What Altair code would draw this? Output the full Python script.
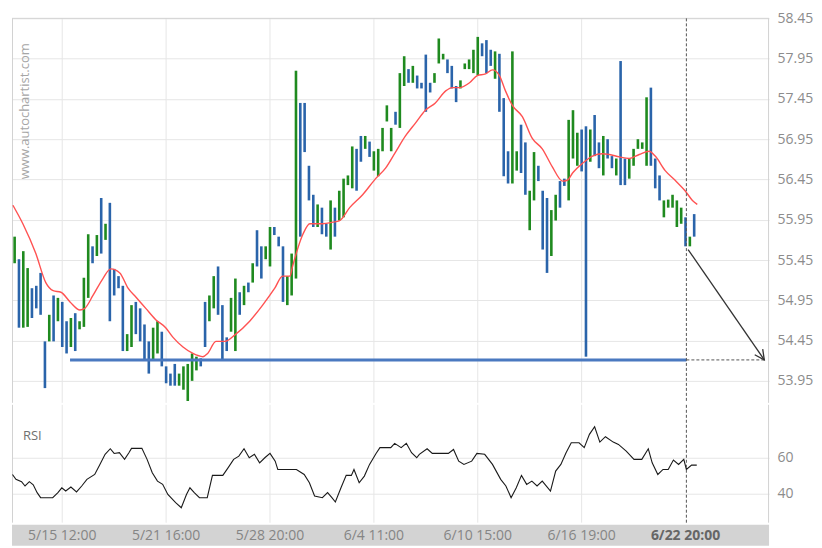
import altair as alt
import pandas as pd

# ---------------- data ----------------
bar_high = [55.74, 55.46, 55.56, 55.35, 55.10, 55.13, 55.29, 54.44, 54.77, 55.01,
            54.98, 54.93, 54.69, 54.73, 54.79, 54.69, 55.23, 55.77, 55.62, 55.76,
            56.22, 55.90, 56.16, 55.34, 55.25, 55.13, 54.53, 54.89, 54.93, 54.85,
            54.65, 54.44, 54.61, 54.69, 54.56, 54.13, 54.04, 54.16, 54.04, 54.13,
            54.16, 54.29, 54.25, 54.23, 54.93, 55.01, 55.25, 55.37, 54.89, 54.49,
            54.98, 55.22, 55.05, 55.13, 55.17, 55.41, 55.82, 55.62, 55.62, 55.86,
            55.86, 55.74, 55.62, 55.25, 55.53, 57.80, 57.40, 57.40, 56.62, 56.26,
            56.14, 56.10, 55.90, 56.19, 56.10, 56.31, 56.46, 56.50, 56.86, 56.83,
            56.99, 56.99, 56.92, 56.80, 56.83, 57.09, 57.37, 57.09, 57.29, 57.77,
            57.98, 57.82, 57.86, 57.74, 57.65, 58.00, 57.65, 57.77, 58.20, 58.01,
            57.94, 57.86, 57.61, 57.68, 57.89, 57.94, 58.06, 58.22, 58.14, 58.18,
            58.06, 58.04, 58.01, 57.46, 56.80, 58.04, 56.80, 57.13, 56.91, 56.31,
            56.79, 56.62, 56.31, 56.22, 56.07, 56.26, 56.43, 56.46, 57.19, 57.31,
            57.03, 57.07, 57.11, 57.07, 57.25, 56.91, 56.99, 56.95, 56.74, 56.71,
            57.92, 56.71, 56.71, 56.83, 56.95, 56.91, 57.47, 57.59, 56.71, 56.50,
            56.19, 56.20, 56.26, 56.19, 56.10, 55.98, 55.74, 56.02]
bar_low = [55.41, 54.61, 54.61, 54.62, 54.73, 54.85, 54.77, 53.86, 54.44, 54.44,
           54.69, 54.37, 54.29, 54.37, 54.32, 54.59, 54.62, 54.98, 55.41, 55.50,
           55.53, 55.70, 54.69, 55.01, 55.10, 54.32, 54.32, 54.37, 54.53, 54.44,
           54.20, 54.04, 54.20, 54.29, 54.13, 53.92, 53.89, 53.89, 53.89, 53.84,
           53.70, 53.95, 54.08, 54.13, 54.37, 54.69, 54.85, 54.77, 54.20, 54.32,
           54.56, 54.32, 54.77, 54.89, 55.05, 55.17, 55.37, 55.22, 55.46, 55.37,
           55.76, 55.62, 54.93, 54.89, 55.01, 55.22, 55.74, 56.79, 56.19, 55.86,
           55.86, 55.77, 55.74, 55.58, 55.74, 55.94, 55.98, 56.38, 56.34, 56.31,
           56.67, 56.83, 56.73, 56.56, 56.49, 56.80, 57.17, 56.80, 57.13, 57.09,
           57.61, 57.65, 57.65, 57.58, 57.58, 57.29, 57.53, 57.65, 57.89, 57.94,
           57.77, 57.58, 57.41, 57.58, 57.82, 57.82, 57.77, 57.74, 57.98, 57.77,
           57.86, 57.70, 57.29, 56.49, 56.40, 56.40, 56.56, 56.53, 56.26, 55.82,
           56.19, 56.43, 55.58, 55.29, 55.50, 55.94, 56.10, 56.37, 56.19, 56.71,
           56.62, 56.55, 54.25, 56.67, 56.74, 56.59, 56.50, 56.71, 56.59, 56.50,
           56.38, 56.38, 56.46, 56.62, 56.83, 56.83, 56.62, 56.62, 56.34, 56.19,
           55.98, 56.10, 56.10, 55.86, 55.90, 55.62, 55.62, 55.74]
bar_dir = list("gbggbbbbgb" "gbbgbgggbg" "bgbbbbggbb" "bbggbbbbgg" "gggbbggbbb"
               "ggbgbgbbgg" "bbbgggbbbb" "gbbgbggggb" "bgbgggggbg" "gbgbbbbggg"
               "bbbgggggbb" "bgbbbggbbg" "gbbbggbbgg" "gbbgbbgbbg" "bbgggggbbb"
               "gggggbgb")
bar_idx = list(range(1, len(bar_high) + 1))

ma_x = [0.6, 2.9, 5.9, 8.2, 9.9, 11.7, 13.8, 16.1, 17.2, 19.1,
        21.4, 23.2, 25.3, 27.2, 29.0, 31.3, 33.6, 35.9, 37.6, 39.9,
        42.2, 44.5, 45.6, 47.5, 49.6, 52.1, 55.3, 58.3, 61.1, 62.9,
        64.6, 65.2, 67.6, 69.2, 72.2, 74.5, 76.1, 78.4, 81.4, 84.4,
        86.7, 89.0, 91.3, 93.6, 95.9, 98.2, 100.6, 102.2, 103.8, 106.1,
        107.9, 109.8, 111.4, 113.0, 114.4, 116.0, 118.3, 120.6, 122.9, 125.2,
        127.6, 128.7, 129.9, 132.2, 134.5, 136.8, 138.4, 140.7, 143.0, 145.3,
        147.6, 149.0, 151.3, 153.6, 155.9, 157.6, 158.7]
ma_y = [56.13, 55.90, 55.53, 55.17, 55.07, 55.05, 54.93, 54.83, 54.85, 55.01,
        55.22, 55.34, 55.29, 55.10, 54.99, 54.85, 54.71, 54.61, 54.49, 54.37,
        54.29, 54.25, 54.29, 54.44, 54.44, 54.53, 54.69, 54.89, 55.10, 55.25,
        55.25, 55.37, 55.77, 55.90, 55.90, 55.92, 55.94, 56.10, 56.26, 56.46,
        56.59, 56.79, 56.99, 57.15, 57.31, 57.40, 57.55, 57.59, 57.59, 57.65,
        57.74, 57.76, 57.81, 57.74, 57.55, 57.37, 57.23, 56.96, 56.83, 56.61,
        56.43, 56.44, 56.53, 56.65, 56.74, 56.77, 56.76, 56.73, 56.71, 56.76,
        56.80, 56.74, 56.56, 56.44, 56.31, 56.19, 56.14]

rsi_x = [0.5, 1.3, 2.6, 3.4, 4.4, 5.3, 6.2, 7.0, 9.8, 11.0,
         11.9, 12.8, 14.0, 15.3, 16.5, 17.7, 19.5, 20.7, 21.9, 23.1,
         24.0, 25.2, 26.4, 27.4, 28.0, 30.4, 31.6, 32.8, 34.0, 35.2,
         36.4, 38.2, 39.5, 40.7, 41.5, 42.5, 43.7, 45.5, 46.7, 49.1,
         50.3, 51.6, 52.8, 54.0, 55.2, 56.4, 57.6, 58.8, 60.0, 61.2,
         61.8, 66.1, 67.9, 69.1, 70.3, 72.1, 73.3, 74.3, 75.1, 76.4,
         77.6, 78.8, 79.4, 80.6, 81.8, 83.0, 84.5, 85.4, 87.9, 88.8,
         90.3, 91.5, 92.7, 93.9, 94.5, 96.3, 97.5, 101.2, 102.4, 103.6,
         104.8, 106.6, 107.8, 109.6, 111.4, 113.3, 114.5, 115.7, 116.9, 118.1,
         119.3, 120.5, 121.7, 122.9, 124.8, 126.0, 127.2, 128.4, 129.6, 131.4,
         132.6, 133.8, 135.0, 136.2, 137.5, 139.3, 140.5, 142.3, 144.1, 145.9,
         147.4, 148.3, 149.6, 150.8, 152.0, 153.2, 154.4, 155.6, 156.2, 157.4,
         158.6]
rsi_y = [50.7, 48.0, 46.7, 44.3, 46.7, 45.0, 40.6, 37.8, 37.8, 40.6,
         43.3, 41.5, 43.7, 41.0, 44.3, 48.0, 50.7, 56.3, 61.9, 65.0,
         62.4, 62.8, 59.1, 62.8, 65.2, 65.2, 59.1, 51.7, 47.0, 45.2,
         39.6, 35.0, 32.2, 39.6, 43.3, 40.6, 37.8, 37.8, 50.2, 50.2,
         54.4, 59.1, 60.9, 65.0, 60.0, 61.9, 57.2, 60.0, 62.4, 58.1,
         53.5, 53.5, 50.7, 46.1, 38.7, 37.8, 40.6, 37.8, 35.4, 43.3,
         50.2, 50.2, 53.5, 46.1, 49.8, 56.3, 62.4, 65.6, 65.6, 68.0,
         65.6, 68.0, 62.8, 60.0, 61.9, 65.0, 62.4, 62.4, 64.6, 58.1,
         56.3, 58.1, 62.4, 61.9, 56.3, 48.0, 44.3, 37.8, 43.3, 50.2,
         45.2, 47.0, 44.3, 47.0, 41.5, 52.6, 56.3, 62.8, 68.3, 68.3,
         65.6, 73.0, 77.2, 68.7, 71.7, 68.7, 67.4, 63.7, 59.1, 59.1,
         65.0, 57.2, 50.7, 53.5, 53.5, 58.7, 56.3, 59.1, 53.5, 55.9,
         55.9]

price_ticks = [53.95, 54.45, 54.95, 55.45, 55.95, 56.45, 56.95, 57.45, 57.95, 58.45]
rsi_ticks = [40, 60]
time_labels = ["5/15 12:00", "5/21 16:00", "5/28 20:00", "6/4 11:00",
               "6/10 15:00", "6/16 19:00", "6/22 20:00"]
time_idx = [12, 36, 60, 84, 108, 132, 156]

support_level = 54.21
support_from = 13.8
signal_at = 156.2
target_at = 174.2
arrow_from_idx = 156.6
arrow_from_price = 55.58

# ---------------- layout / style ----------------
W = 758
H_MAIN = 394
H_RSI = 118
H_STRIP = 21
X_DOMAIN = [0.39, 175.3]
P_DOMAIN = [53.677, 58.562]
R_DOMAIN = [23.9, 89.4]
TOP_PX = (P_DOMAIN[1] - price_ticks[-1]) / (P_DOMAIN[1] - P_DOMAIN[0]) * H_MAIN

GREEN = "#1f8a1f"
BLUE = "#2a64aa"
GRID = "#e6e6e6"
BORDER = "#d2d2d2"
FONT = "Open Sans"
LABEL = "#8c8c8c"

xs = alt.Scale(domain=X_DOMAIN, nice=False, zero=False)
ps = alt.Scale(domain=P_DOMAIN, nice=False, zero=False)
rs = alt.Scale(domain=R_DOMAIN, nice=False, zero=False)

price_axis = alt.Axis(orient="right", values=price_ticks, format=".2f", grid=True,
                      ticks=False, domain=False, labelPadding=8, title=None)


def X(f):
    return alt.X(f, scale=xs, axis=None)


def P(f):
    return alt.Y(f, scale=ps, axis=price_axis)


bars_df = pd.DataFrame({"i": bar_idx, "high": bar_high, "low": bar_low, "dir": bar_dir})
ma_df = pd.DataFrame({"i": ma_x, "ma": ma_y})
rsi_df = pd.DataFrame({"i": rsi_x, "rsi": rsi_y})
grid_df = pd.DataFrame({"i": time_idx[:-1]})
labels_df = pd.DataFrame({"i": time_idx, "label": time_labels})
one = pd.DataFrame({"a": [0]})
sig_df = pd.DataFrame({"i": [signal_at]})

# ---------------- main price panel ----------------
grid_v = alt.Chart(grid_df).mark_rule(color=GRID, strokeWidth=1).encode(
    x=X("i:Q"), y=alt.value(TOP_PX), y2=alt.value(H_MAIN))
b_left = alt.Chart(one).mark_rule(color=BORDER, strokeWidth=1).encode(
    x=alt.value(0.5), y=alt.value(TOP_PX), y2=alt.value(H_MAIN))
b_right = alt.Chart(one).mark_rule(color=BORDER, strokeWidth=1).encode(
    x=alt.value(W - 0.5), y=alt.value(TOP_PX), y2=alt.value(H_MAIN))
b_top = alt.Chart(one).mark_rule(color=BORDER, strokeWidth=1).encode(
    x=alt.value(0), x2=alt.value(W), y=alt.value(TOP_PX))

bars = alt.Chart(bars_df).mark_rule(strokeWidth=2.6).encode(
    x=X("i:Q"),
    y=P("high:Q"),
    y2="low:Q",
    color=alt.Color("dir:N", scale=alt.Scale(domain=["g", "b"], range=[GREEN, BLUE]),
                    legend=None),
)
ma = alt.Chart(ma_df).mark_line(color="#ff5252", strokeWidth=1.4, interpolate="monotone").encode(
    x=X("i:Q"), y=P("ma:Q"))

sup_df = pd.DataFrame({"x0": [support_from], "x1": [signal_at], "y": [support_level]})
support = alt.Chart(sup_df).mark_rule(color="#4a79c0", strokeWidth=3).encode(
    x=X("x0:Q"), x2="x1:Q", y=P("y:Q"))
ext_df = pd.DataFrame({"x0": [signal_at], "x1": [target_at], "y": [support_level]})
support_ext = alt.Chart(ext_df).mark_rule(color="#555555", strokeWidth=1, strokeDash=[3, 2]).encode(
    x=X("x0:Q"), x2="x1:Q", y=P("y:Q"))

arr_df = pd.DataFrame({"x0": [arrow_from_idx], "y0": [arrow_from_price],
                       "x1": [target_at], "y1": [support_level]})
arrow = alt.Chart(arr_df).mark_rule(color="#333333", strokeWidth=1.3).encode(
    x=X("x0:Q"), x2="x1:Q", y=P("y0:Q"), y2="y1:Q")
head = alt.Chart(arr_df).mark_point(shape="M-0.5,-1L0,0L0.5,-1", filled=False, color="#333333",
                                    strokeWidth=1.3, size=380, angle=325, opacity=1).encode(
    x=X("x1:Q"), y=P("y1:Q"))

signal_main = alt.Chart(sig_df).mark_rule(color="#555555", strokeWidth=1, strokeDash=[3, 2]).encode(
    x=X("i:Q"), y=alt.value(TOP_PX), y2=alt.value(H_MAIN))

watermark = alt.Chart(one).mark_text(text="www.autochartist.com", angle=270, font=FONT,
                                     fontSize=13, color="#a6a6a6", align="center",
                                     baseline="middle").encode(
    x=alt.value(13), y=alt.value(TOP_PX + 93))

main = alt.layer(grid_v, b_left, b_right, b_top, bars, ma, support, support_ext,
                 arrow, head, signal_main, watermark).properties(width=W, height=H_MAIN)

# ---------------- RSI panel ----------------
grid_v2 = alt.Chart(grid_df).mark_rule(color=GRID, strokeWidth=1).encode(x=X("i:Q"))
r_left = alt.Chart(one).mark_rule(color=BORDER, strokeWidth=1).encode(
    x=alt.value(0.5), y=alt.value(0), y2=alt.value(H_RSI))
r_right = alt.Chart(one).mark_rule(color=BORDER, strokeWidth=1).encode(
    x=alt.value(W - 0.5), y=alt.value(0), y2=alt.value(H_RSI))
rsi_line = alt.Chart(rsi_df).mark_line(color="#1a1a1a", strokeWidth=1.1,
                                      interpolate="linear").encode(
    x=X("i:Q"),
    y=alt.Y("rsi:Q", scale=rs,
            axis=alt.Axis(orient="right", values=rsi_ticks, grid=True, ticks=False,
                          domain=False, labelPadding=8, title=None)))
signal_rsi = alt.Chart(sig_df).mark_rule(color="#555555", strokeWidth=1, strokeDash=[3, 2]).encode(
    x=X("i:Q"))
rsi_title = alt.Chart(one).mark_text(text="RSI", align="left", baseline="middle", font=FONT,
                                     fontSize=13, color="#707070").encode(
    x=alt.value(11), y=alt.value(31))

rsi = alt.layer(grid_v2, r_left, r_right, rsi_line, signal_rsi, rsi_title).properties(
    width=W, height=H_RSI)

# ---------------- time strip ----------------
strip_bg = alt.Chart(one).mark_rect(color="#d3d3d3").encode(
    x=alt.value(0), x2=alt.value(W), y=alt.value(0), y2=alt.value(H_STRIP))
strip_txt = alt.Chart(labels_df.iloc[:-1]).mark_text(font=FONT, fontSize=14, color="#858585",
                                                     baseline="middle", align="center").encode(
    x=X("i:Q"), y=alt.value(H_STRIP / 2 + 0.5), text="label:N")
strip_last = alt.Chart(labels_df.iloc[-1:]).mark_text(font=FONT, fontSize=14, color="#666666",
                                                      fontWeight="bold", baseline="middle",
                                                      align="center").encode(
    x=X("i:Q"), y=alt.value(H_STRIP / 2 + 0.5), text="label:N")
strip = alt.layer(strip_bg, strip_txt, strip_last).properties(width=W, height=H_STRIP)

chart = alt.vconcat(main, rsi, strip, spacing=0).properties(
    padding={"left": 1, "top": 0, "right": 0, "bottom": 0}
).configure_view(stroke="transparent").configure_axis(
    labelFont=FONT, labelFontSize=14, labelColor=LABEL, gridColor=GRID, gridWidth=1
)

chart.save("out.html", embed_options={"renderer": "svg", "actions": False})
